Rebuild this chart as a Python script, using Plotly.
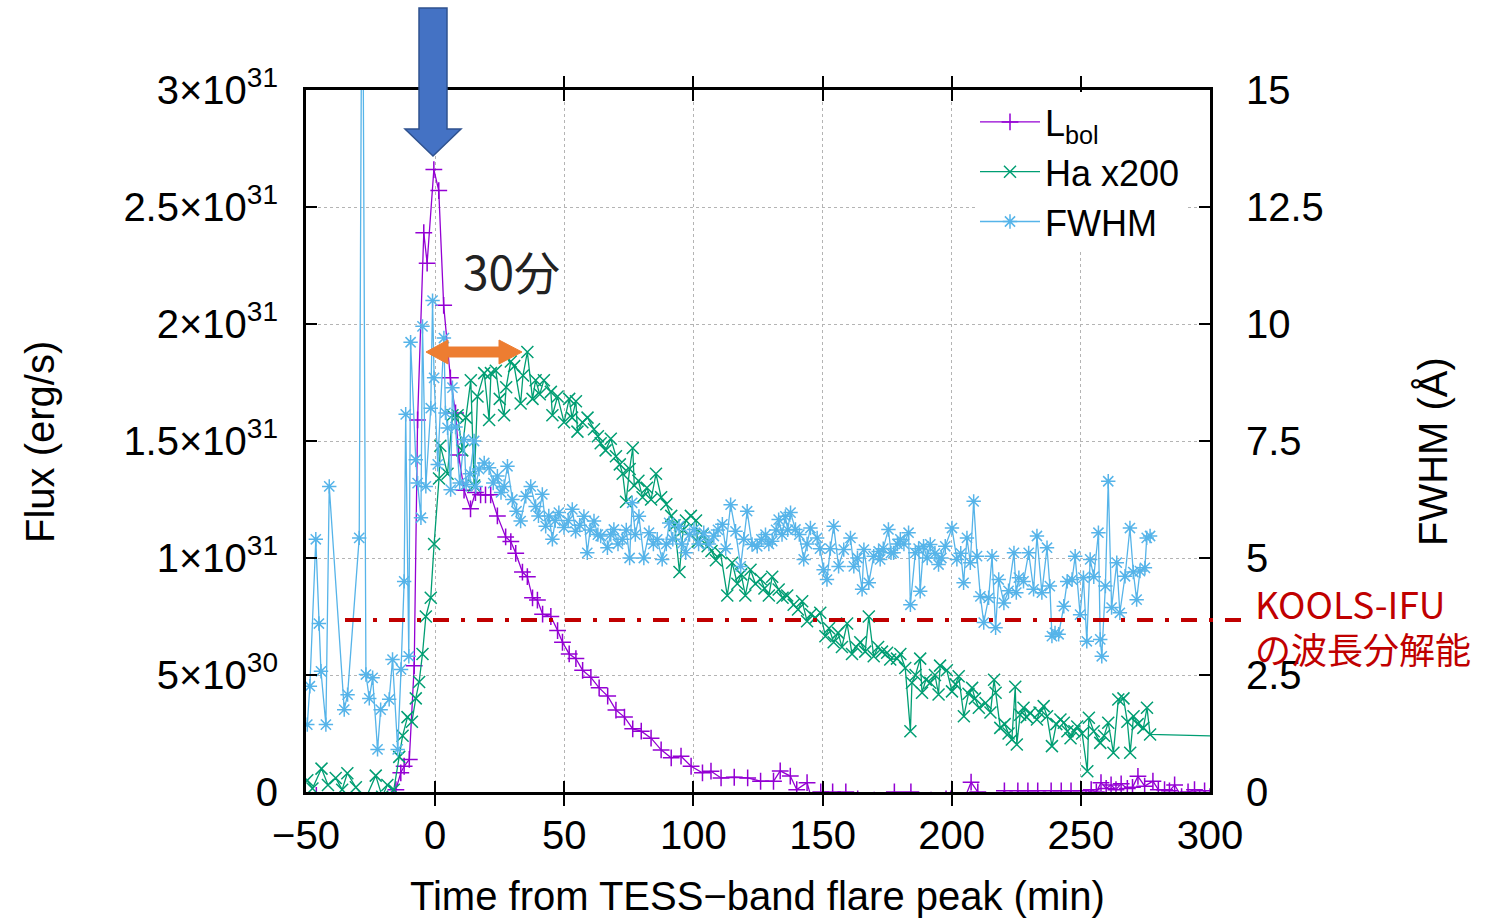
import plotly.graph_objects as go

# ---------------- data ----------------
# L_bol : time (min) and flux in units of 1e30 erg/s
lbol_t = [-50, -48, -46, -44, -42, -40, -38, -36, -34, -32, -30, -28, -26, -24, -22, -20, -18, -16,
          -15.2, -13.3, -12, -10, -8.1, -6.8, -4.4, -3.1, -0.5, 1.4, 3.3, 5.9, 7.9, 9.1, 11.2, 13.7,
          15.6, 17.6, 19.5, 21.5, 24.1, 27.3, 29.3, 31.2, 33.8, 35.7, 37.7, 39.6, 41.6, 44.8, 47.4,
          49.3, 51.9, 54.5, 57.1, 60.3, 63.5, 66.8, 70, 73.3, 76.5, 79.8, 83.6, 87.5, 91.4, 95.2,
          99.1, 103.5, 106.8, 110.7, 115.8, 121, 126, 131, 133.6, 137.5, 140, 144, 146.5,
          149.3, 151.5, 153.9, 156.5, 159.0, 161.3, 163.6, 167, 170.0, 174, 177.8, 181, 184.2, 188,
          192.0, 195, 197.8, 199.7, 203.5, 207.5, 210.1, 214, 217, 220.4, 223, 225.6, 227.5, 229.5,
          231.5, 233.3, 236, 238.5, 240.5, 242.4, 244.3, 246.2, 248.2, 250.1, 252, 254.0, 256,
          257.8, 259.8, 261.7, 263.6, 265.6, 268, 270, 272.1, 274.7, 277.9, 280, 282.4, 284.3,
          286.3, 289, 291.5, 294.0, 296, 297.9, 300]
lbol_v = [-0.8, -0.5, -0.15, -0.7, -1.0, -0.6, -0.9, -0.5, -0.8, -1.1, -0.6, -0.9, -0.7, -1.0, -0.6,
          -0.8, -0.4, -0.2,
          0.1, 0.82, 1.1, 1.39, 5.4, 15.9, 23.9, 22.6, 26.6, 25.7, 20.8, 17.7, 16.2, 14.4, 12.9, 12.1,
          12.8, 12.7, 12.7, 12.7, 11.8, 10.9, 10.7, 10.2, 9.4, 9.2, 8.3, 8.2, 7.6, 7.5, 6.9,
          6.4, 5.9, 5.7, 5.2, 4.9, 4.45, 4.1, 3.5, 3.2, 2.7, 2.6, 2.3, 1.8, 1.46, 1.53,
          1.1, 0.82, 0.89, 0.6, 0.63, 0.6, 0.46, 0.46, 0.9, 0.68, 0.1, 0.4, -0.6,
          0.0, -0.7, 0.0, -0.5, 0.0, -0.8, -0.3, -0.9, -0.35, -0.7, 0.0, -0.8, 0.0, -0.9,
          -0.35, -0.8, -0.3, -0.3, -0.7, 0.42, 0.0, -0.8, -0.6, 0.05, -0.6, 0.05, -0.5, 0.05,
          -0.6, 0.05, -0.5, 0.05, -0.6, 0.05, -0.4, 0.05, -0.5, 0.05, -0.3, 0.1, 0.0,
          0.4, 0.15, 0.3, 0.1, 0.35, 0.15, 0.2, 0.67, 0.25, 0.46, 0.1, 0.1, 0.05,
          0.3, -0.2, 0.0, 0.1, -0.3, 0.05, -0.2]

# H-alpha x200 : time (min) and flux in units of 1e30 erg/s
ha_t = [-49.5, -47.5, -44, -41.5, -38.5, -36, -34, -30.7, -27, -23, -20.5, -18.5, -16,
        -13.9, -12.6, -10.7, -9, -7.5, -6.2, -4.9, -3.6, -1.7, -0.4, 1.5, 2, 4.8, 6.7, 8.7, 10.5,
        11.9, 13.8, 15.1, 16.4, 19, 20.9, 21.6, 23.5, 25, 26.7, 27.5, 29.3, 30.6, 33.1, 34, 35.7,
        37.7, 38.9, 40.5, 42.1, 44.8, 45.4, 47.4, 49.9, 51.9, 53, 54.5, 55.1, 57, 59, 61.5, 63,
        64.1, 66, 68, 70, 71.5, 72.6, 73.9, 75.3, 76.5, 77.1, 78.7, 80.3, 82, 83.6, 85.5, 87.5,
        89.5, 91.4, 92.7, 94.6, 96, 97.1, 99, 101, 101.6, 103.5, 105.5, 107, 108.7, 110.5, 113.1,
        115, 117, 118.5, 120.1, 122.1, 124, 126, 127.5, 129.2, 130.5, 133, 134.5, 136.3, 138.8,
        140.5, 142.1, 144, 145.5, 147.2, 149.1, 151.1, 152.5, 154.3, 156, 157.5, 159.5, 161.4,
        163, 164.6, 166.5, 167.9, 169.8, 171.5, 173, 175, 176.2, 178.8, 180.1, 182, 184, 184.6,
        186, 187.8, 188.5, 190, 191.7, 193.5, 194.9, 195.5, 198.1, 200.1, 201.5, 202.7, 204.7,
        206.5, 207.9, 209, 210.5, 213.1, 215, 216.4, 217, 218.8, 220.5, 222, 223.3, 224.6, 225.2,
        226.5, 227.8, 229, 230.4, 233, 234, 235.6, 236.9, 238.8, 240.5, 242.1, 243.4, 244.8, 246,
        247.5, 248.6, 250.5, 252.5, 253.1, 255, 257.5, 259, 260.6, 262.6, 264.5, 266.5, 268,
        269.1, 270.4, 272, 274.2, 275.6, 276.8, 320]
ha_v = [0.5, 0.15, 1.0, 0.3, 0.6, 0.1, 0.8, 0.2, -0.3, 0.7, -0.2, 0.3, 0.1,
        1.5, 2.4, 3.2, 3.0, 4.0, 4.7, 5.9, 7.5, 8.3, 10.6, 13.4, 14.8, 13.6, 16.1, 16.1, 14.6,
        16.0, 17.6, 13.1, 16.9, 17.9, 15.9, 17.9, 18.0, 16.8, 16.1, 17.3, 18.4, 18.2, 16.6, 17.8, 18.8,
        16.8, 17.6, 17.0, 17.6, 17.1, 16.1, 16.9, 15.8, 16.8, 16.0, 16.7, 15.4, 15.8, 16.0, 15.5, 15.2,
        14.9, 14.6, 15.1, 14.35, 14.0, 13.6, 12.4, 13.8, 14.7, 13.1, 13.3, 12.6, 13.0, 12.5, 13.6, 12.6,
        12.3, 11.8, 11.4, 9.4, 11.2, 11.6, 11.8, 11.6, 10.7, 11.0, 10.5, 10.3, 9.9, 10.2, 8.4,
        9.8, 8.9, 9.3, 8.4, 9.5, 8.9, 9.1, 8.7, 8.4, 9.2, 8.65, 8.3, 8.4, 8.0,
        7.8, 8.15, 7.3, 7.6, 7.44, 7.66, 6.66, 7.0, 6.4, 6.8, 6.2, 7.2, 5.9,
        6.2, 6.4, 6.0, 7.5, 5.8, 6.2, 6.0, 5.95, 5.66, 5.7, 5.9, 5.3, 2.6, 4.67,
        5.0, 5.7, 4.24, 4.8, 4.67, 5.0, 4.17, 5.4, 5.2, 4.3, 4.6, 4.95, 3.24,
        4.2, 4.45, 4.0, 3.6, 3.8, 3.4, 4.8, 4.24, 2.74, 2.9, 2.5, 2.24, 4.5, 2.03,
        3.3, 3.6, 3.2, 3.38, 3.1, 3.4, 3.67, 3.24, 1.96, 2.9, 3.1, 2.96, 2.6, 2.3,
        2.6, 2.8, 2.5, 0.89, 3.17, 2.6, 2.1, 2.4, 2.96, 1.68, 3.95, 4.0, 3.0,
        1.68, 3.24, 2.9, 2.74, 3.6, 2.46, 2.35]

# FWHM : time (min) and width (Angstrom)
fw_t = [-49.5, -48.5, -46.2, -45, -44.2, -42.3, -41, -35.2, -33.9, -29.4, -28.2, -26.8, -25.5,
        -24.2, -22.3, -21.1, -17.8, -16.5, -14.5, -13.2, -12.0, -11.4, -10.2, -9.5, -7.5, -6.8,
        -5.5, -4.9, -3.6, -1.7, -1.0, -0.4, 1.0, 3.4, 4.0, 4.8, 6.0, 6.7, 7.9, 9.5, 11.2, 12.0,
        13.5, 15.1, 15.7, 17, 19, 20.9, 22.5, 24.1, 25.5, 26.7, 28, 29.9, 31.5, 33.1, 35.1, 37,
        38.9, 40, 41.5, 42.8, 44, 45.4, 46.5, 47.9, 49.9, 51.5, 53.1, 54.4, 56, 57.6, 58.9, 60,
        61.5, 63, 64.1, 66.7, 68, 69.2, 70.8, 72.5, 74, 75.3, 76.3, 77.5, 78.9, 80.8, 82.8, 84.5,
        86, 87.9, 89.5, 90.6, 92, 94.4, 95.5, 97, 98.5, 100.2, 102, 104, 106, 107.9, 109.5, 111.2,
        112.5, 114.4, 116.3, 118.3, 119.5, 120.8, 122.7, 124.7, 126.3, 127.9, 129.2, 130.5, 132,
        133, 134.3, 135.6, 136.5, 137.6, 139.5, 141, 142.7, 144, 145.3, 147.9, 149, 150.4, 151.7,
        153, 154.3, 156.2, 158.2, 160.8, 162.1, 163.5, 165.3, 166, 167.9, 169.8, 171.7, 172.3,
        173.5, 175.5, 176.5, 177.5, 179, 180.1, 181.5, 183.3, 184, 185.9, 187.2, 187.8, 189.1,
        190.5, 191.7, 193.5, 194.9, 196, 197.5, 200.1, 202, 203.5, 204.6, 205.9, 207.2, 208.5,
        209.8, 211.1, 212.4, 214.3, 215.6, 217, 218.2, 220.2, 222, 224.1, 225, 226, 227.8, 229.8,
        231.7, 233, 234.9, 236.9, 238, 238.8, 240, 241.4, 243.4, 244.7, 246.6, 247.8, 249.7, 251,
        252.3, 253.6, 255, 256.8, 257.5, 258.1, 259.5, 260.6, 261.9, 263.9, 265.1, 267.1, 269,
        270.3, 271.6, 272.9, 274.8, 275.5, 276.8]
fw_v = [1.44, 2.26, 5.4, 3.6, 2.58, 1.44, 6.53, 1.76, 2.08, 5.43, 20.0, 2.51, 2.0,
        2.44, 0.91, 1.76, 1.98, 2.83, 0.91, 2.62, 4.5, 8.07, 2.9, 9.61, 7.1, 6.6,
        5.86, 9.95, 6.53, 8.2, 10.5, 8.85, 7.0, 9.7, 8.1, 7.78, 6.46, 8.64, 7.8, 6.6, 7.53, 6.57,
        6.8, 7.5, 6.53, 6.9, 7.03, 6.93, 6.6, 6.75, 6.4, 6.53, 6.96, 6.25, 6.0, 5.79, 6.32, 6.53,
        6.1, 5.9, 6.36, 5.68, 5.9, 5.4, 5.8, 5.97, 5.65, 5.8, 6.04, 5.57, 5.7, 5.89, 5.11, 5.6,
        5.79, 5.5, 5.47, 5.22, 5.5, 5.61, 5.3, 5.4, 5.6, 5.0, 6.18, 5.5, 5.89, 5.0, 5.54, 5.3,
        5.4, 4.97, 5.3, 5.75, 5.4, 5.68, 5.3, 5.11, 5.5, 5.61, 5.3, 5.54, 5.3, 5.47, 5.6, 5.72,
        5.2, 6.14, 5.57, 4.82, 5.4, 6.0, 5.29, 5.25, 5.4, 5.5, 5.3, 5.36, 5.6,
        5.82, 5.5, 5.89, 5.6, 5.97, 5.61, 5.5, 4.97, 5.3, 5.64, 5.43, 5.2, 4.75, 4.54,
        5.2, 5.68, 4.82, 5.18, 5.43, 4.82, 5.0, 4.33, 5.18, 4.47, 5.04, 5.14, 4.97,
        5.2, 5.61, 5.11, 5.11, 5.3, 5.4, 5.3, 5.54, 4.0, 5.11, 5.2, 4.29, 5.25,
        5.0, 5.29, 5.1, 4.86, 5.0, 5.25, 5.64, 4.97, 5.1, 4.47, 5.43, 4.9, 6.21,
        5.04, 4.18, 3.62, 4.15, 5.04, 3.51, 4.54, 4.04, 4.3, 5.11, 4.26, 4.58, 4.5, 5.11,
        4.33, 5.47, 4.26, 5.22, 4.4, 3.33, 3.4, 3.37, 3.97, 4.5, 4.54, 5.04, 3.79, 4.58,
        3.22, 4.97, 4.6, 5.54, 3.26, 2.9, 4.4, 6.64, 3.94, 4.9, 3.83, 4.61, 5.64,
        4.7, 4.11, 4.72, 4.79, 5.43, 5.47]

x_ticks = [-50, 0, 50, 100, 150, 200, 250, 300]
x_ticklabels = ["\u221250", "0", "50", "100", "150", "200", "250", "300"]
y_ticks = [0, 5e30, 1e31, 1.5e31, 2e31, 2.5e31, 3e31]
y_ticklabels = ["0", "5\u00d710<sup>30</sup>", "1\u00d710<sup>31</sup>", "1.5\u00d710<sup>31</sup>",
                "2\u00d710<sup>31</sup>", "2.5\u00d710<sup>31</sup>", "3\u00d710<sup>31</sup>"]
y2_ticks = [0, 2.5, 5, 7.5, 10, 12.5, 15]
y2_ticklabels = ["0", "2.5", "5", "7.5", "10", "12.5", "15"]
resolution_level = 7.35e30  # KOOLS-IFU resolution line (left-axis units)

# ---------------- figure ----------------
W, H = 1504, 919
ML, MR, MT, MB = 306, 294, 90, 127
PW, PH = W - ML - MR, H - MT - MB


def px(x):
    return (x - ML) / PW


def py(y):
    return (H - MB - y) / PH


SCALE = 1e30
FONT = "Liberation Sans"
CJK = "Noto Sans CJK JP"

fig = go.Figure()
fig.add_trace(go.Scatter(
    x=lbol_t, y=[v * SCALE for v in lbol_v], name="L<sub>bol</sub>", mode="lines+markers",
    line=dict(color="#9400D3", width=1.3),
    marker=dict(symbol="cross-thin-open", size=12, color="#9400D3", line=dict(width=1.5, color="#9400D3")),
))
fig.add_trace(go.Scatter(
    x=ha_t, y=[v * SCALE for v in ha_v], name="Ha x200", mode="lines+markers",
    line=dict(color="#009E73", width=1.3),
    marker=dict(symbol="x-thin-open", size=12, color="#009E73", line=dict(width=1.5, color="#009E73")),
))
fig.add_trace(go.Scatter(
    x=fw_t, y=fw_v, name="FWHM", mode="lines+markers", yaxis="y2",
    line=dict(color="#56B4E9", width=1.3),
    marker=dict(symbol="asterisk-open", size=12, color="#56B4E9", line=dict(width=1.5, color="#56B4E9")),
))

axis_common = dict(showline=True, linecolor="black", linewidth=3, ticks="inside", ticklen=11,
                   tickwidth=2, tickcolor="black", zeroline=False,
                   tickfont=dict(family=FONT, size=40, color="black"))

fig.update_layout(
    width=W, height=H, autosize=False,
    margin=dict(l=ML, r=MR, t=MT, b=MB, pad=0),
    paper_bgcolor="white", plot_bgcolor="white",
    xaxis=dict(range=[-50, 300], tickvals=x_ticks, ticktext=x_ticklabels, mirror="allticks",
               showgrid=True, gridcolor="#b4b4b4", griddash="dot", gridwidth=1,
               ticklabelstandoff=6, **axis_common),
    yaxis=dict(range=[0, 3e31], tickvals=y_ticks, ticktext=y_ticklabels, mirror=True,
               showgrid=True, gridcolor="#b4b4b4", griddash="dot", gridwidth=1,
               ticklabelstandoff=17, **axis_common),
    yaxis2=dict(range=[0, 15], tickvals=y2_ticks, ticktext=y2_ticklabels, overlaying="y",
                side="right", anchor="x", showgrid=False, ticklabelstandoff=25, **axis_common),
    legend=dict(x=px(1185), y=py(92), xanchor="right", yanchor="top", bgcolor="white",
                font=dict(family=FONT, size=36, color="black"), tracegroupgap=0,
                itemwidth=60),
    showlegend=True,
)

# axis titles
fig.add_annotation(text="Time from TESS\u2212band flare peak (min)", x=px(757), y=py(896),
                   xref="paper", yref="paper", xanchor="center", yanchor="middle", showarrow=False,
                   font=dict(family=FONT, size=40, color="black"))
fig.add_annotation(text="Flux (erg/s)", x=px(40), y=py(442), xref="paper", yref="paper",
                   xanchor="center", yanchor="middle",
                   showarrow=False, textangle=-90, font=dict(family=FONT, size=40, color="black"))
fig.add_annotation(text="FWHM (\u00c5)", x=px(1433), y=py(452), xref="paper", yref="paper",
                   xanchor="center", yanchor="middle",
                   showarrow=False, textangle=-90, font=dict(family=FONT, size=40, color="black"))

# KOOLS-IFU resolution line
y_res = (resolution_level / 3e31)
fig.add_shape(type="line", xref="paper", yref="paper", x0=px(345), x1=px(1242),
              y0=y_res, y1=y_res, line=dict(color="#C00000", width=4, dash="16px,12px,4px,12px"),
              layer="above")
fig.add_annotation(text="KOOLS-IFU", x=px(1253), y=py(603), xref="paper", yref="paper",
                   xanchor="left", yanchor="middle", showarrow=False,
                   font=dict(family=CJK, size=37, color="#C00000"))
fig.add_annotation(text="の波長分解能", x=px(1253), y=py(648), xref="paper", yref="paper",
                   xanchor="left", yanchor="middle", showarrow=False,
                   font=dict(family=CJK, size=36, color="#C00000"))

# blue down arrow marking the peak
def path(points):
    s = "M " + " L ".join(f"{px(a):.5f},{py(b):.5f}" for a, b in points) + " Z"
    return s

blue = [(419, 8), (447, 8), (447, 129), (461, 129), (433, 156), (405, 129), (419, 129)]
fig.add_shape(type="path", xref="paper", yref="paper", path=path(blue),
              fillcolor="#4472C4", line=dict(color="#2F528F", width=1.5), layer="above")

# orange double arrow (30 min)
orange = [(426, 352), (448, 340), (448, 347), (499, 347), (499, 340), (522, 352),
          (499, 364), (499, 357), (448, 357), (448, 364)]
fig.add_shape(type="path", xref="paper", yref="paper", path=path(orange),
              fillcolor="#ED7D31", line=dict(color="#ED7D31", width=1), layer="above")
fig.add_annotation(text="30分", x=px(511), y=py(270), xref="paper", yref="paper",
                   xanchor="center", yanchor="middle",
                   showarrow=False, font=dict(family=CJK, size=46, color="#222222"))

fig.write_html("out.html")
